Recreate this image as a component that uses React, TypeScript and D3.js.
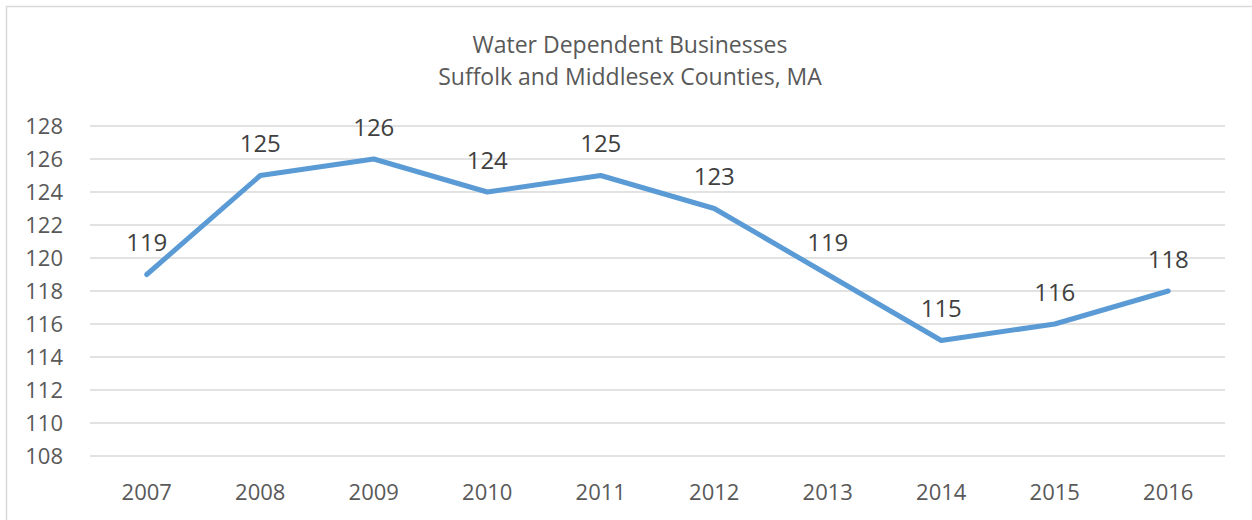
import React from "react";
import * as d3 from "d3";

const years = ["2007", "2008", "2009", "2010", "2011", "2012", "2013", "2014", "2015", "2016"];
const businesses = [119, 125, 126, 124, 125, 123, 119, 115, 116, 118];
const yTicks = [108, 110, 112, 114, 116, 118, 120, 122, 124, 126, 128];
const titleLines = ["Water Dependent Businesses", "Suffolk and Middlesex Counties, MA"];

const W = 1252;
const H = 520;
const FONT = "'Open Sans', 'Liberation Sans', sans-serif";

export default function App() {
  const x = d3.scaleBand<string>().domain(years).range([90, 1225]).padding(0);
  const y = d3.scaleLinear().domain([108, 128]).range([456, 126]);
  const cx = (d: string) => (x(d) as number) + x.bandwidth() / 2;
  const line = d3
    .line<number>()
    .x((_, i) => cx(years[i]))
    .y((d) => y(d));

  return (
    <svg
      width={W}
      height={H}
      style={{ position: "absolute", left: 0, top: 0, background: "#fff" }}
      fontFamily={FONT}
    >
      <rect x={6.5} y={6.5} width={W + 10} height={H + 10} fill="#fff" stroke="#d9d9d9" strokeWidth={1.5} />
      {titleLines.map((t, i) => (
        <text key={i} x={630} y={53 + i * 32} textAnchor="middle" fontSize={23} fill="#595959">
          {t}
        </text>
      ))}
      {yTicks.map((t) => (
        <g key={t}>
          <line x1={90} x2={1225} y1={y(t)} y2={y(t)} stroke="#d9d9d9" strokeWidth={1.5} />
          <text x={63} y={y(t)} dy="0.36em" textAnchor="end" fontSize={22} fill="#595959">
            {t}
          </text>
        </g>
      ))}
      {years.map((yr) => (
        <text key={yr} x={cx(yr)} y={492} dy="0.36em" textAnchor="middle" fontSize={22} fill="#595959">
          {yr}
        </text>
      ))}
      <path d={line(businesses) || ""} fill="none" stroke="#5B9BD5" strokeWidth={5} strokeLinejoin="round" strokeLinecap="round" />
      {businesses.map((v, i) => (
        <text key={i} x={cx(years[i])} y={y(v) - 32} dy="0.36em" textAnchor="middle" fontSize={24} fill="#404040">
          {v}
        </text>
      ))}
    </svg>
  );
}
